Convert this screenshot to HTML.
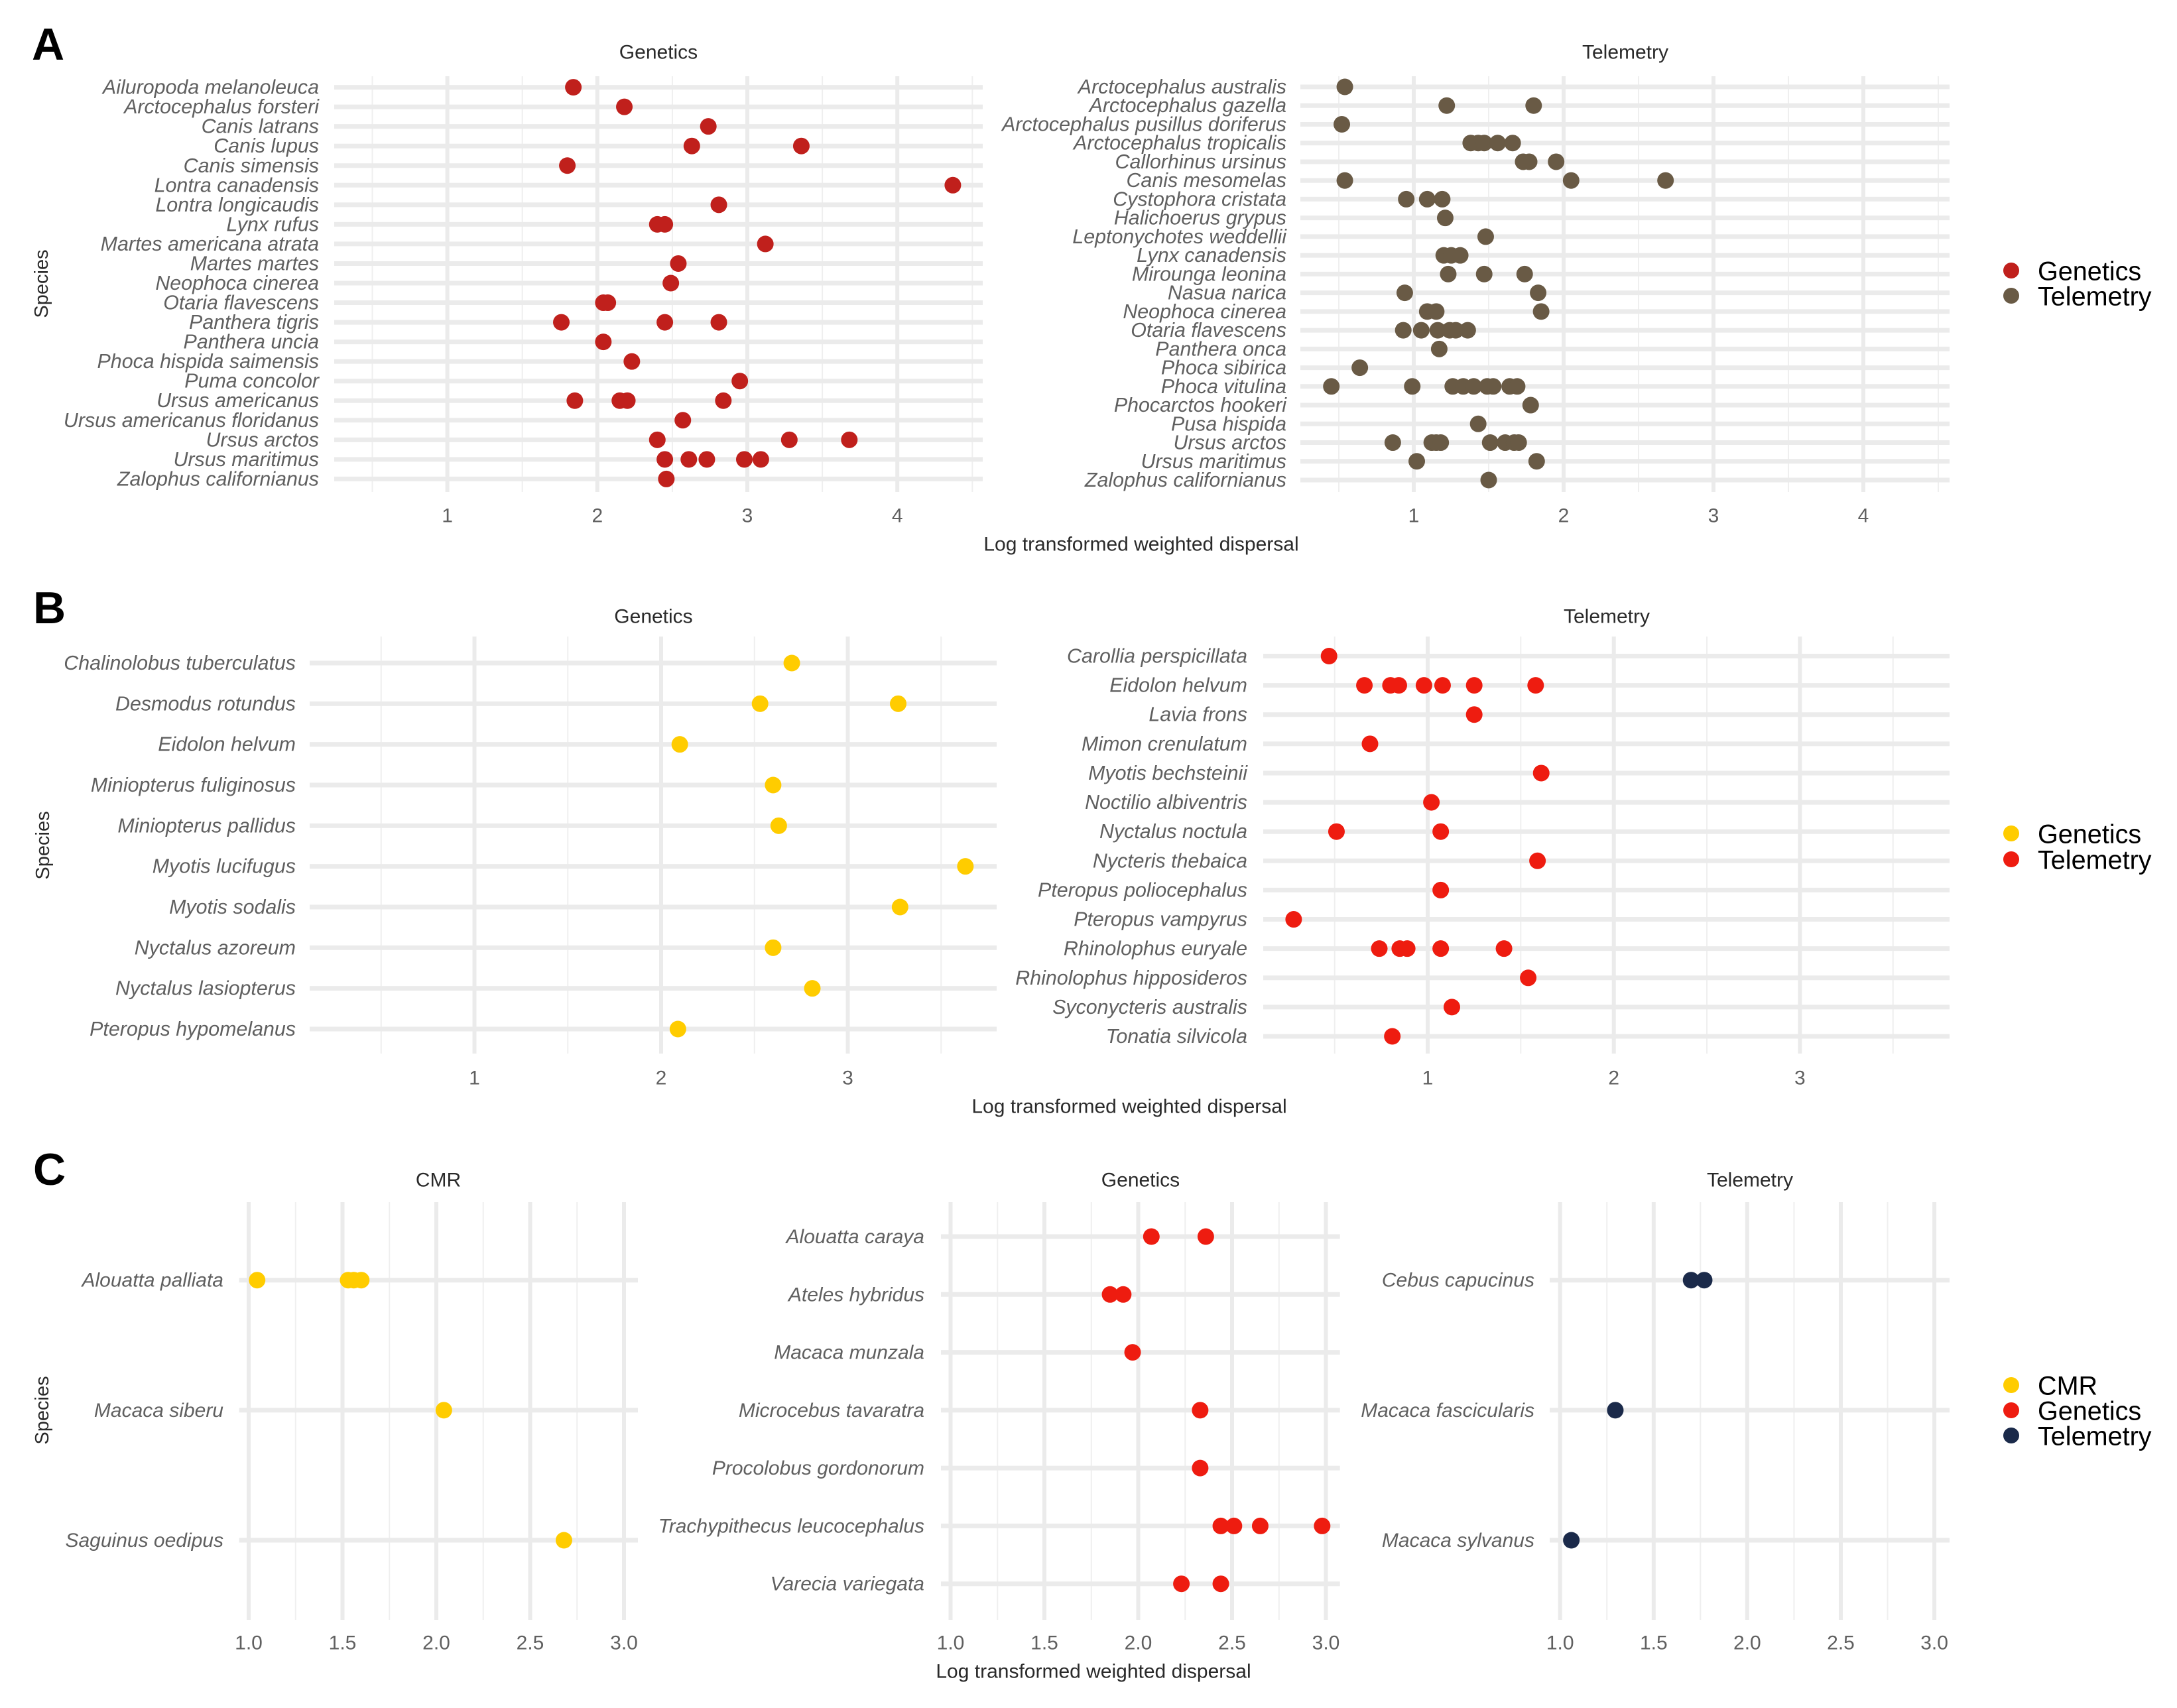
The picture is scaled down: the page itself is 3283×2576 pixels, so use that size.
<!DOCTYPE html>
<html lang="en">
<head>
<meta charset="utf-8">
<title>Log transformed weighted dispersal by species and method</title>
<style>
html,body{margin:0;padding:0;background:#fff;}
svg{display:block;font-family:"Liberation Sans",sans-serif;}
</style>
</head>
<body>
<svg id="figure" xmlns="http://www.w3.org/2000/svg" width="3283" height="2576" viewBox="0 0 3283 2576">
<rect x="0" y="0" width="3283" height="2576" fill="#ffffff"></rect>
</svg>
<script>
// ---------- Panel A data ----------
const aGeneticsSpecies = ["Ailuropoda melanoleuca","Arctocephalus forsteri","Canis latrans","Canis lupus","Canis simensis","Lontra canadensis","Lontra longicaudis","Lynx rufus","Martes americana atrata","Martes martes","Neophoca cinerea","Otaria flavescens","Panthera tigris","Panthera uncia","Phoca hispida saimensis","Puma concolor","Ursus americanus","Ursus americanus floridanus","Ursus arctos","Ursus maritimus","Zalophus californianus"];
const aGeneticsValues = [[1.84],[2.18],[2.74],[2.63,3.36],[1.80],[4.37],[2.81],[2.40,2.45],[3.12],[2.54],[2.49],[2.04,2.07],[1.76,2.45,2.81],[2.04],[2.23],[2.95],[1.85,2.15,2.20,2.84],[2.57],[2.40,3.28,3.68],[2.45,2.61,2.73,2.98,3.09],[2.46]];
const aTelemetrySpecies = ["Arctocephalus australis","Arctocephalus gazella","Arctocephalus pusillus doriferus","Arctocephalus tropicalis","Callorhinus ursinus","Canis mesomelas","Cystophora cristata","Halichoerus grypus","Leptonychotes weddellii","Lynx canadensis","Mirounga leonina","Nasua narica","Neophoca cinerea","Otaria flavescens","Panthera onca","Phoca sibirica","Phoca vitulina","Phocarctos hookeri","Pusa hispida","Ursus arctos","Ursus maritimus","Zalophus californianus"];
const aTelemetryValues = [[0.54],[1.22,1.80],[0.52],[1.38,1.43,1.47,1.56,1.66],[1.73,1.77,1.95],[0.54,2.05,2.68],[0.95,1.09,1.19],[1.21],[1.48],[1.20,1.25,1.31],[1.23,1.47,1.74],[0.94,1.83],[1.09,1.15,1.85],[0.93,1.05,1.16,1.24,1.28,1.36],[1.17],[0.64],[0.45,0.99,1.26,1.33,1.40,1.49,1.53,1.64,1.69],[1.78],[1.43],[0.86,1.12,1.15,1.18,1.51,1.61,1.67,1.70],[1.02,1.82],[1.50]];
const aMajorTicks = [1,2,3,4];
const aMajorLabels = ["1","2","3","4"];
const aMinorTicks = [0.5,1.5,2.5,3.5,4.5];

// ---------- Panel B data ----------
const bGeneticsSpecies = ["Chalinolobus tuberculatus","Desmodus rotundus","Eidolon helvum","Miniopterus fuliginosus","Miniopterus pallidus","Myotis lucifugus","Myotis sodalis","Nyctalus azoreum","Nyctalus lasiopterus","Pteropus hypomelanus"];
const bGeneticsValues = [[2.70],[2.53,3.27],[2.10],[2.60],[2.63],[3.63],[3.28],[2.60],[2.81],[2.09]];
const bTelemetrySpecies = ["Carollia perspicillata","Eidolon helvum","Lavia frons","Mimon crenulatum","Myotis bechsteinii","Noctilio albiventris","Nyctalus noctula","Nycteris thebaica","Pteropus poliocephalus","Pteropus vampyrus","Rhinolophus euryale","Rhinolophus hipposideros","Syconycteris australis","Tonatia silvicola"];
const bTelemetryValues = [[0.47],[0.66,0.80,0.845,0.98,1.08,1.25,1.58],[1.25],[0.69],[1.61],[1.02],[0.51,1.07],[1.59],[1.07],[0.28],[0.74,0.85,0.89,1.07,1.41],[1.54],[1.13],[0.81]];
const bMajorTicks = [1,2,3];
const bMajorLabels = ["1","2","3"];
const bMinorTicks = [0.5,1.5,2.5,3.5];

// ---------- Panel C data ----------
const cCmrSpecies = ["Alouatta palliata","Macaca siberu","Saguinus oedipus"];
const cCmrValues = [[1.045,1.53,1.56,1.60],[2.04],[2.68]];
const cGeneticsSpecies = ["Alouatta caraya","Ateles hybridus","Macaca munzala","Microcebus tavaratra","Procolobus gordonorum","Trachypithecus leucocephalus","Varecia variegata"];
const cGeneticsValues = [[2.07,2.36],[1.85,1.92],[1.97],[2.33],[2.33],[2.44,2.51,2.65,2.98],[2.23,2.44]];
const cTelemetrySpecies = ["Cebus capucinus","Macaca fascicularis","Macaca sylvanus"];
const cTelemetryValues = [[1.70,1.77],[1.295],[1.06]];
const cMajorTicks = [1.0,1.5,2.0,2.5,3.0];
const cMajorLabels = ["1.0","1.5","2.0","2.5","3.0"];
const cMinorTicks = [1.25,1.75,2.25,2.75];

// ---------- Legend data ----------
const aLegendLabels = ["Genetics","Telemetry"];
const bLegendLabels = ["Genetics","Telemetry"];
const cLegendLabels = ["CMR","Genetics","Telemetry"];

// ---------- Drawing ----------
const SVG_NS = "http://www.w3.org/2000/svg";
const root = document.getElementById("figure");
const COLOR_RED_DARK = "#c0201c";
const COLOR_BROWN = "#695a45";
const COLOR_YELLOW = "#ffcc00";
const COLOR_RED = "#ee1c10";
const COLOR_NAVY = "#1b2a4a";
const GRID = "#ebebeb";
const GRID_MINOR = "#efefef";
const LABEL_GREY = "#606060";
const TITLE_DARK = "#2a2a2a";

function shape(tag, attrs, parent) {
  const el = document.createElementNS(SVG_NS, tag);
  for (const k in attrs) el.setAttribute(k, attrs[k]);
  parent.appendChild(el);
  return el;
}
function slug(s) {
  return s.toLowerCase().replace(/[^a-z0-9]+/g, "-");
}
function linearX(originPx, unitPx) {
  return function (v) { return originPx + (v - 1) * unitPx; };
}
function bandY(firstPx, lastPx, count) {
  return function (i) { return firstPx + i * (lastPx - firstPx) / (count - 1); };
}

function drawPanel(o) {
  const id = o.id;
  const x = linearX(o.x1, o.unit);
  const y = bandY(o.firstRow, o.lastRow, o.species.length);

  const g = shape("g", {}, root);
  
  

  const strip = shape("text", {x: o.stripX, y: o.stripY + 10.5, "text-anchor": "middle", "font-size": 30, fill: TITLE_DARK}, g);
  
  
  strip.textContent = o.strip;

  o.minor.forEach(function (t) {
    const ln = shape("line", {x1: x(t), x2: x(t), y1: o.top, y2: o.bottom, stroke: GRID_MINOR, "stroke-width": 2}, g);
    
    
  });
  o.major.forEach(function (t, i) {
    const ln = shape("line", {x1: x(t), x2: x(t), y1: o.top, y2: o.bottom, stroke: GRID, "stroke-width": 6}, g);
    
    
    const lab = shape("text", {x: x(t), y: o.tickY + 10.5, "text-anchor": "middle", "font-size": 30, fill: LABEL_GREY}, g);
    
    
    lab.textContent = o.labels[i];
  });
  o.species.forEach(function (name, i) {
    const ln = shape("line", {x1: o.left, x2: o.right, y1: y(i), y2: y(i), stroke: GRID, "stroke-width": 7}, g);
    
    
    const lab = shape("text", {x: o.labelRight, y: y(i) + 10, "text-anchor": "end", "font-size": o.labelSize, "font-style": "italic", fill: LABEL_GREY}, g);
    
    
    lab.textContent = name;
  });
  o.values.forEach(function (vals, i) {
    vals.forEach(function (v) {
      const pt = shape("circle", {cx: x(v), cy: y(i), r: 12.5, fill: o.color}, g);
      
      
    });
  });
}

function drawLegend(id, labels, colors, x, ys) {
  const g = shape("g", {}, root);
  
  
  labels.forEach(function (label, i) {
    const dot = shape("circle", {cx: x, cy: ys[i], r: 12, fill: colors[i]}, g);
    
    
    const t = shape("text", {x: x + 40, y: ys[i] + 14.5, "font-size": 39.6, fill: "#000"}, g);
    
    
    t.textContent = label;
  });
}

function drawRowFurniture(id, letter, letterX, letterBase, speciesX, speciesY, titleX, titleY) {
  const l = shape("text", {x: letterX, y: letterBase, "font-size": 68, "font-weight": "bold", fill: "#000"}, root);
  
  
  l.textContent = letter;

  const s = shape("text", {x: 0, y: 0, "text-anchor": "middle", "font-size": 29, fill: TITLE_DARK, transform: "translate(" + (speciesX + 10) + "," + speciesY + ") rotate(-90)"}, root);
  
  
  s.textContent = "Species";

  const t = shape("text", {x: titleX, y: titleY + 10.5, "text-anchor": "middle", "font-size": 30, fill: TITLE_DARK}, root);
  
  
  t.textContent = "Log transformed weighted dispersal";
}

// Row A
drawPanel({id: "a-genetics", strip: "Genetics", stripX: 993, stripY: 78, species: aGeneticsSpecies, values: aGeneticsValues, color: COLOR_RED_DARK,
  x1: 674.6, unit: 226.2, firstRow: 131.6, lastRow: 722.4, left: 504, right: 1482, top: 115, bottom: 742, labelRight: 481, labelSize: 30.4, tickY: 777,
  major: aMajorTicks, labels: aMajorLabels, minor: aMinorTicks});
drawPanel({id: "a-telemetry", strip: "Telemetry", stripX: 2451, stripY: 78, species: aTelemetrySpecies, values: aTelemetryValues, color: COLOR_BROWN,
  x1: 2132, unit: 226, firstRow: 131, lastRow: 724, left: 1961, right: 2940, top: 115, bottom: 742, labelRight: 1940, labelSize: 30.4, tickY: 777,
  major: aMajorTicks, labels: aMajorLabels, minor: aMinorTicks});
drawRowFurniture("a", "A", 48, 90, 62, 428, 1721, 820);
drawLegend("a", aLegendLabels, [COLOR_RED_DARK, COLOR_BROWN], 3033, [408, 446]);

// Row B
drawPanel({id: "b-genetics", strip: "Genetics", stripX: 985.5, stripY: 929, species: bGeneticsSpecies, values: bGeneticsValues, color: COLOR_YELLOW,
  x1: 715.5, unit: 281.5, firstRow: 1000, lastRow: 1552, left: 467, right: 1503, top: 960, bottom: 1589, labelRight: 446, labelSize: 30.4, tickY: 1625,
  major: bMajorTicks, labels: bMajorLabels, minor: bMinorTicks});
drawPanel({id: "b-telemetry", strip: "Telemetry", stripX: 2423, stripY: 929, species: bTelemetrySpecies, values: bTelemetryValues, color: COLOR_RED,
  x1: 2153, unit: 280.7, firstRow: 989.5, lastRow: 1563, left: 1905, right: 2940, top: 960, bottom: 1589, labelRight: 1881, labelSize: 30.4, tickY: 1625,
  major: bMajorTicks, labels: bMajorLabels, minor: bMinorTicks});
drawRowFurniture("b", "B", 50, 940, 64, 1275, 1703, 1668);
drawLegend("b", bLegendLabels, [COLOR_YELLOW, COLOR_RED], 3033, [1257, 1296]);

// Row C
drawPanel({id: "c-cmr", strip: "CMR", stripX: 661, stripY: 1779, species: cCmrSpecies, values: cCmrValues, color: COLOR_YELLOW,
  x1: 375, unit: 283, firstRow: 1930.7, lastRow: 2323, left: 360.6, right: 962, top: 1813, bottom: 2443, labelRight: 337, labelSize: 30, tickY: 2477,
  major: cMajorTicks, labels: cMajorLabels, minor: cMinorTicks});
drawPanel({id: "c-genetics", strip: "Genetics", stripX: 1720, stripY: 1779, species: cGeneticsSpecies, values: cGeneticsValues, color: COLOR_RED,
  x1: 1433.5, unit: 283, firstRow: 1865, lastRow: 2388.7, left: 1419, right: 2020.7, top: 1813, bottom: 2443, labelRight: 1394, labelSize: 30, tickY: 2477,
  major: cMajorTicks, labels: cMajorLabels, minor: cMinorTicks});
drawPanel({id: "c-telemetry", strip: "Telemetry", stripX: 2639, stripY: 1779, species: cTelemetrySpecies, values: cTelemetryValues, color: COLOR_NAVY,
  x1: 2352.7, unit: 282.2, firstRow: 1930.7, lastRow: 2323, left: 2337, right: 2940, top: 1813, bottom: 2443, labelRight: 2314, labelSize: 30, tickY: 2477,
  major: cMajorTicks, labels: cMajorLabels, minor: cMinorTicks});
drawRowFurniture("c", "C", 50, 1787, 63, 2127, 1649, 2520);
drawLegend("c", cLegendLabels, [COLOR_YELLOW, COLOR_RED, COLOR_NAVY], 3033, [2089, 2127, 2165]);
</script>
</body>
</html>
